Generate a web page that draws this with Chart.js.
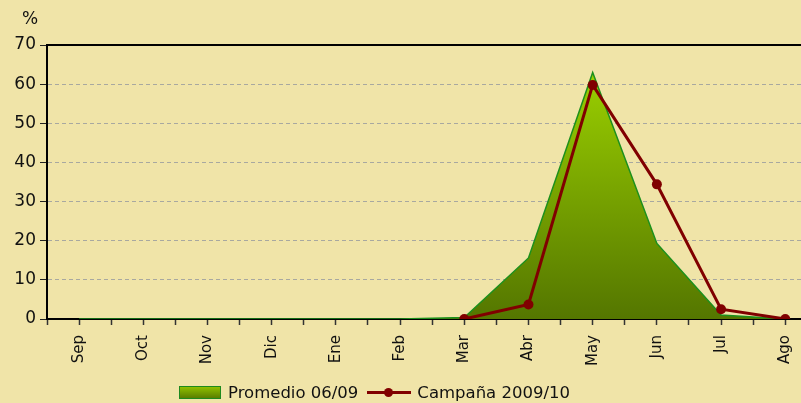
<!DOCTYPE html>
<html>
<head>
<meta charset="utf-8">
<script src="https://cdn.jsdelivr.net/npm/chart.js@4/dist/chart.umd.min.js"></script>
<style>
  html, body { margin:0; padding:0; background:#F0E4A8; overflow:hidden; }
  #wrap { position:relative; width:801px; height:403px; overflow:hidden; }
  #c { position:absolute; left:0; top:0; }
  #pct { position:absolute; left:22px; top:8px; font:17px "DejaVu Sans", sans-serif; color:#111; }
  #legend { position:absolute; left:179px; top:381px; height:22px; display:flex; align-items:center; font:16.5px "DejaVu Sans", sans-serif; color:#111; white-space:nowrap; }
  .box { width:40px; height:11px; border:1px solid #1E8A1E; background:linear-gradient(#8FC000,#5A7E00); margin-right:7px; }
  .lin { position:relative; width:44px; height:3px; background:#800000; margin:0 6px 0 9px; }
  .lin:after { content:""; position:absolute; left:17px; top:-3px; width:9px; height:9px; border-radius:50%; background:#800000; }
</style>
</head>
<body>
<div id="wrap">
  <canvas id="c" width="806" height="403"></canvas>
  <div id="pct">%</div>
  <div id="legend"><span class="box"></span><span>Promedio 06/09</span><span class="lin"></span><span>Campaña 2009/10</span></div>
</div>
<script>
const months = ["Sep","Oct","Nov","Dic","Ene","Feb","Mar","Abr","May","Jun","Jul","Ago"];
const promedio = [0, 0, 0, 0, 0, 0, 0.4, 15.6, 63.0, 19.3, 1.0, 0];
const campana = [null, null, null, null, null, null, 0, 3.7, 59.8, 34.4, 2.5, 0];
const yTicks = [0, 10, 20, 30, 40, 50, 60, 70];

const toXY = arr => arr.map((v, i) => ({x: i + 1, y: v}));
const FONT = '"DejaVu Sans", sans-serif';

const frame = {
  id: 'frame',
  afterDatasetsDraw(chart) {
    const {ctx, chartArea} = chart;
    const y = chart.scales.y;
    ctx.save();
    ctx.strokeStyle = '#000';
    ctx.lineWidth = 2;
    ctx.beginPath();
    ctx.moveTo(chartArea.left, y.getPixelForValue(70));
    ctx.lineTo(chart.width, y.getPixelForValue(70));
    ctx.stroke();
    ctx.restore();
  }
};

new Chart(document.getElementById('c'), {
  type: 'line',
  data: {
    datasets: [
      {
        label: 'Campaña 2009/10',
        data: toXY(campana),
        borderColor: '#800000',
        backgroundColor: '#800000',
        borderWidth: 3,
        pointRadius: 5,
        pointBackgroundColor: '#800000',
        pointBorderWidth: 0,
        fill: false,
        tension: 0,
        order: 1
      },
      {
        label: 'Promedio 06/09',
        data: toXY(promedio),
        borderColor: '#1C901C',
        borderWidth: 1.5,
        pointRadius: 0,
        fill: 'origin',
        tension: 0,
        order: 2,
        backgroundColor: (ctx) => {
          const ch = ctx.chart;
          if (!ch.chartArea) return '#6F9600';
          const y = ch.scales.y;
          const g = ch.ctx.createLinearGradient(0, y.getPixelForValue(63), 0, y.getPixelForValue(0));
          g.addColorStop(0, '#9ACF00');
          g.addColorStop(1, '#547600');
          return g;
        }
      }
    ]
  },
  options: {
    responsive: false,
    animation: false,
    layout: { padding: { top: 45, right: 0, left: 0, bottom: 0 } },
    plugins: { legend: { display: false }, tooltip: { enabled: false } },
    scales: {
      x: {
        type: 'linear',
        min: 0.5,
        max: 12.245,
        afterFit: (s) => { s.height = 84; s.paddingLeft = 0; s.paddingRight = 0; },
        afterBuildTicks: (s) => {
          const t = [];
          for (let i = 1; i <= months.length * 2; i++) t.push({value: i / 2});
          s.ticks = t.filter(k => k.value <= s.max);
        },
        ticks: {
          autoSkip: false,
          maxRotation: 90,
          minRotation: 90,
          padding: 10,
          color: '#111',
          font: { family: FONT, size: 15 },
          callback: (v) => {
            const r = Math.round(v);
            return (Math.abs(v - r) < 1e-6 && r >= 1 && r <= 12) ? months[r - 1] : '';
          }
        },
        grid: { drawOnChartArea: false, drawTicks: true, tickLength: 6, tickColor: '#333', tickWidth: 1.5 },
        border: { display: true, color: '#000', width: 2 }
      },
      y: {
        min: 0,
        max: 70,
        afterFit: (s) => { s.width = 47; },
        afterBuildTicks: (s) => { s.ticks = yTicks.map(v => ({value: v})); },
        ticks: {
          padding: 4,
          color: '#111',
          font: { family: FONT, size: 17 }
        },
        grid: {
          color: (c) => (c.tick && (c.tick.value === 0 || c.tick.value === 70)) ? 'rgba(0,0,0,0)' : '#A8A8A0',
          lineWidth: 1,
          drawTicks: true,
          tickLength: 7,
          tickColor: '#222',
          tickBorderDash: [],
          tickWidth: 1
        },
        border: { display: true, color: '#000', width: 2, dash: [4, 3] }
      }
    }
  },
  plugins: [frame]
});
</script>
</body>
</html>
